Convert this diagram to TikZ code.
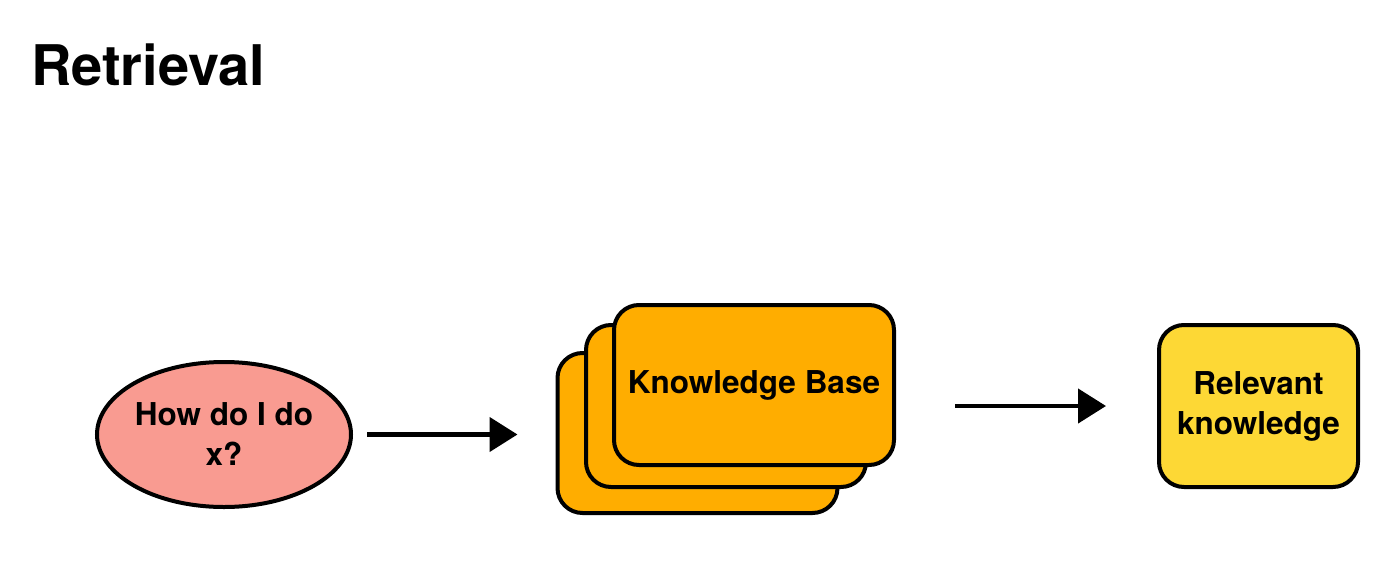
\documentclass[tikz,border=0pt]{standalone}
\usepackage{fontspec}
\setmainfont{TeX Gyre Heros}
\usetikzlibrary{arrows.meta, shapes.geometric}
\definecolor{querypink}{RGB}{249,155,145}
\definecolor{baseorange}{RGB}{255,173,0}
\definecolor{relyellow}{RGB}{253,216,53}
\begin{document}
\begin{tikzpicture}[x=1pt, y=-1pt, line width=4pt,
  card/.style = {draw, rounded corners=25pt, fill=baseorange, minimum width=280pt, minimum height=160pt, inner sep=0pt},
  lbl/.style = {font=\fontsize{31.5}{40}\selectfont\bfseries, align=center},
  arrow/.style = {-{Triangle[length=28pt,width=34pt]}, line width=4.5pt}]
\useasboundingbox (0,0) rectangle (1400,570);
\node[anchor=base west, inner sep=0pt, font=\fontsize{56}{60}\selectfont\bfseries] (title) at (29,85) {Retrieval};
\node[draw, ellipse, fill=querypink, minimum width=254pt, minimum height=145pt, inner sep=0pt, lbl] (q) at (224,434.5) {How do I do\\x?};
\node[card] (kb3) at (697.5,433) {};
\node[card, minimum height=162pt] (kb2) at (726,406) {};
\node[card, lbl] (kb1) at (754,385) {\raisebox{-4pt}{Knowledge Base}};
\node[draw, rounded corners=25pt, fill=relyellow, minimum width=199pt, minimum height=162pt, inner sep=0pt, lbl] (rel) at (1258.5,406) {Relevant\\knowledge};
\draw[arrow, shorten <=14pt, shorten >=38pt] (q) -- (q -| kb3.west);
\draw[arrow, shorten <=87pt, shorten >=51pt] (kb2) -- (rel);
\end{tikzpicture}
\end{document}
